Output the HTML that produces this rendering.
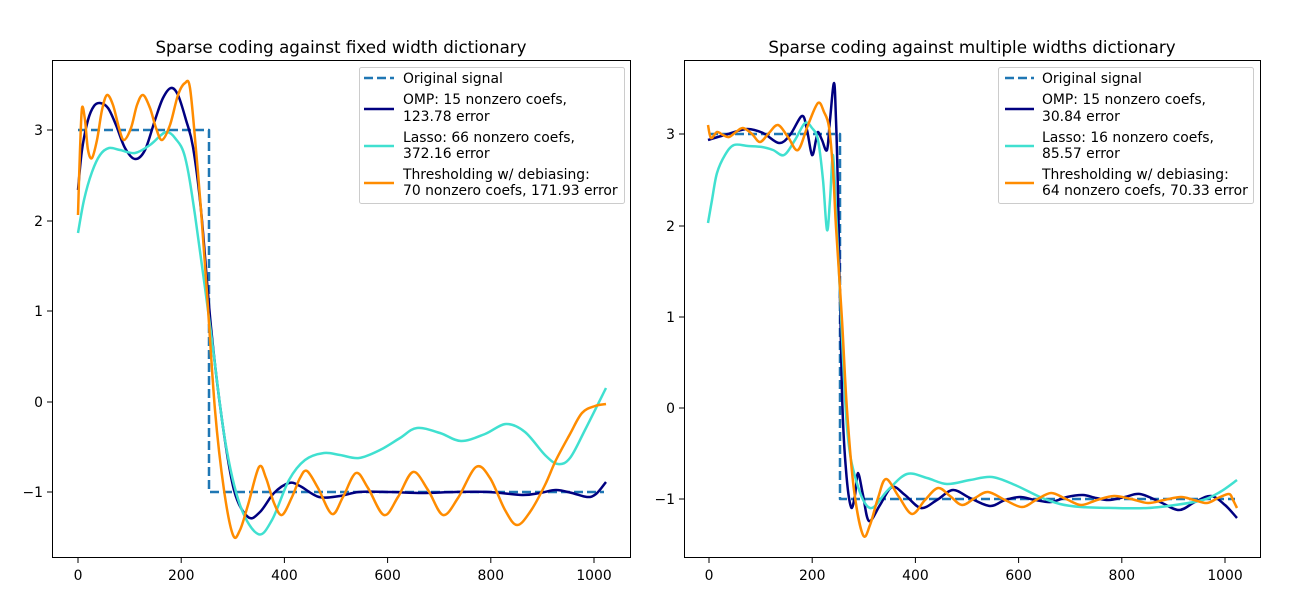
<!DOCTYPE html>
<html><head><meta charset="utf-8"><style>
html,body{margin:0;padding:0;background:#fff;}
svg{display:block;}
text{font-family:"DejaVu Sans","Liberation Sans",sans-serif;fill:#000;}
.tk{font-size:13.9px;}
.lg{font-size:13.9px;}
.tt{font-size:16.7px;}
.c{fill:none;stroke-width:2.5;stroke-linejoin:round;stroke-linecap:butt;}
</style></head><body>
<svg id="s" width="1300" height="600" viewBox="0 0 1300 600">
<rect width="1300" height="600" fill="#fff"/>
<!-- LEFT PANEL -->
<text class="tt" x="341" y="53" text-anchor="middle">Sparse coding against fixed width dictionary</text>
<g>
<polyline class="c" stroke="#1f77b4" stroke-dasharray="9,4" points="78,130 209,130 209,492 604,492"/>
<polyline class="c sm" stroke="#000080" points="78,190 82,150 88,120 94,106 100,103 108,108 116,125 125,148 135,159 145,150 155,120 163,98 171,88 178,95 186,120 193,147 201,210 211,327 222,420 234,490 248,517 260,512 274,493 289,483 300,486 319,497 340,496 359,492 390,492 422,493 455,492 489,492 522,495 540,493 556,490 572,493 587,497 596,494 606,482"/>
<polyline class="c sm" stroke="#40e0d0" points="78,233 84,200 92,172 100,155 109,148 120,150 135,153 150,145 160,136 167,132 175,138 185,157 195,215 211,333 225,440 240,505 258,534 272,520 289,480 305,460 324,453 340,455 359,458 380,450 400,438 417,428 440,433 461,441 485,434 506,424 525,432 545,455 558,464 570,458 585,430 606,388"/>
<polyline class="c sm" stroke="#ff8c00" points="78,215 80,150 82,108 85,120 88,150 92,158 97,140 102,110 107,95 113,105 119,128 124,140 131,128 137,105 143,95 150,108 156,128 162,140 170,125 178,95 185,83 190,88 196,150 201,210 207,293 215,410 224,490 233,535 240,530 248,505 259,467 266,478 274,503 282,515 292,497 300,478 307,471 318,488 332,514 343,497 356,473 368,488 384,515 398,497 413,472 428,490 443,515 458,498 476,467 490,478 505,510 517,525 530,512 545,485 556,460 570,434 582,413 595,406 606,404"/>
</g>
<rect x="52.5" y="60.5" width="578" height="497" fill="none" stroke="#000" stroke-width="1"/>
<g stroke="#000" stroke-width="1">
<line x1="78" y1="558" x2="78" y2="563"/><line x1="181.2" y1="558" x2="181.2" y2="563"/><line x1="284.4" y1="558" x2="284.4" y2="563"/><line x1="387.6" y1="558" x2="387.6" y2="563"/><line x1="490.8" y1="558" x2="490.8" y2="563"/><line x1="594" y1="558" x2="594" y2="563"/>
<line x1="47" y1="130" x2="52" y2="130"/><line x1="47" y1="221" x2="52" y2="221"/><line x1="47" y1="311" x2="52" y2="311"/><line x1="47" y1="402" x2="52" y2="402"/><line x1="47" y1="492" x2="52" y2="492"/>
</g>
<g class="tk" text-anchor="middle">
<text x="78" y="580">0</text><text x="181.2" y="580">200</text><text x="284.4" y="580">400</text><text x="387.6" y="580">600</text><text x="490.8" y="580">800</text><text x="594" y="580">1000</text>
</g>
<g class="tk" text-anchor="end">
<text x="43" y="135">3</text><text x="43" y="226">2</text><text x="43" y="316">1</text><text x="43" y="407">0</text><text x="43" y="497">−1</text>
</g>
<rect x="359.5" y="67.5" width="265" height="136" rx="2" fill="#fff" fill-opacity="0.8" stroke="#ccc"/>
<line x1="364" y1="78" x2="394" y2="78" stroke="#1f77b4" stroke-width="2.5" stroke-dasharray="9,4"/>
<line x1="364" y1="109" x2="394" y2="109" stroke="#000080" stroke-width="2.5"/>
<line x1="364" y1="146" x2="394" y2="146" stroke="#40e0d0" stroke-width="2.5"/>
<line x1="364" y1="183" x2="394" y2="183" stroke="#ff8c00" stroke-width="2.5"/>
<g class="lg">
<text x="403" y="83">Original signal</text>
<text x="403" y="104">OMP: 15 nonzero coefs,</text><text x="403" y="121">123.78 error</text>
<text x="403" y="142">Lasso: 66 nonzero coefs,</text><text x="403" y="158">372.16 error</text>
<text x="403" y="179">Thresholding w/ debiasing:</text><text x="403" y="195">70 nonzero coefs, 171.93 error</text>
</g>

<!-- RIGHT PANEL -->
<text class="tt" x="972" y="53" text-anchor="middle">Sparse coding against multiple widths dictionary</text>
<g>
<polyline class="c" stroke="#1f77b4" stroke-dasharray="9,4" points="709,134 840,134 840,499 1235,499"/>
<polyline class="c sm" stroke="#000080" points="708,140 728,134 747,129 763,133 779,143 790,135 802,116 807,130 812,155 816,140 818,132 822,140 827,150 830,120 834,83 836,120 838,193 842,393 846,470 851,507 855,495 858,473 863,495 869,521 880,505 892,487 905,495 921,508 937,500 953,490 970,498 990,506 1005,500 1020,497 1035,500 1051,502 1067,497 1083,495 1096,498 1109,500 1125,497 1140,494 1160,502 1179,510 1195,502 1211,496 1225,505 1237,518"/>
<polyline class="c sm" stroke="#40e0d0" points="708,223 712,200 717,173 725,155 734,145 748,146 762,147 773,150 784,155 795,140 805,123 812,128 818,140 823,180 827,230 830,200 833,155 836,210 840,293 847,427 856,480 870,508 888,490 907,474 927,478 947,484 970,480 992,477 1015,485 1040,497 1060,504 1081,507 1115,508 1148,508 1175,505 1203,500 1220,492 1237,480"/>
<polyline class="c sm" stroke="#ff8c00" points="708,125 711,138 717,132 723,135 729,137 736,132 743,128 752,134 760,142 769,133 778,125 788,137 798,150 808,125 818,103 824,112 829,127 833,170 836,227 842,320 847,410 854,490 863,535 870,525 878,498 886,479 899,497 912,514 925,500 938,488 950,496 962,505 975,498 988,492 1005,500 1022,507 1036,500 1051,493 1066,499 1081,505 1097,500 1114,496 1131,499 1148,503 1164,500 1181,497 1194,500 1207,503 1218,498 1229,494 1233,500 1237,508"/>
</g>
<rect x="684.5" y="60.5" width="576" height="497" fill="none" stroke="#000" stroke-width="1"/>
<g stroke="#000" stroke-width="1">
<line x1="709" y1="558" x2="709" y2="563"/><line x1="812.2" y1="558" x2="812.2" y2="563"/><line x1="915.4" y1="558" x2="915.4" y2="563"/><line x1="1018.6" y1="558" x2="1018.6" y2="563"/><line x1="1121.8" y1="558" x2="1121.8" y2="563"/><line x1="1225" y1="558" x2="1225" y2="563"/>
<line x1="679" y1="134" x2="684" y2="134"/><line x1="679" y1="226" x2="684" y2="226"/><line x1="679" y1="317" x2="684" y2="317"/><line x1="679" y1="408" x2="684" y2="408"/><line x1="679" y1="499" x2="684" y2="499"/>
</g>
<g class="tk" text-anchor="middle">
<text x="709" y="580">0</text><text x="812.2" y="580">200</text><text x="915.4" y="580">400</text><text x="1018.6" y="580">600</text><text x="1121.8" y="580">800</text><text x="1225" y="580">1000</text>
</g>
<g class="tk" text-anchor="end">
<text x="675" y="139">3</text><text x="675" y="231">2</text><text x="675" y="322">1</text><text x="675" y="413">0</text><text x="675" y="504">−1</text>
</g>
<rect x="998.5" y="67.5" width="255" height="136" rx="2" fill="#fff" fill-opacity="0.8" stroke="#ccc"/>
<line x1="1005" y1="78" x2="1034" y2="78" stroke="#1f77b4" stroke-width="2.5" stroke-dasharray="9,4"/>
<line x1="1005" y1="109" x2="1034" y2="109" stroke="#000080" stroke-width="2.5"/>
<line x1="1005" y1="146" x2="1034" y2="146" stroke="#40e0d0" stroke-width="2.5"/>
<line x1="1005" y1="183" x2="1034" y2="183" stroke="#ff8c00" stroke-width="2.5"/>
<g class="lg">
<text x="1042" y="83">Original signal</text>
<text x="1042" y="104">OMP: 15 nonzero coefs,</text><text x="1042" y="121">30.84 error</text>
<text x="1042" y="142">Lasso: 16 nonzero coefs,</text><text x="1042" y="158">85.57 error</text>
<text x="1042" y="179">Thresholding w/ debiasing:</text><text x="1042" y="195">64 nonzero coefs, 70.33 error</text>
</g>
</svg>
<script>
(function(){
var NS="http://www.w3.org/2000/svg";
var pls=document.querySelectorAll("polyline.sm");
for(var i=0;i<pls.length;i++){
  var pl=pls[i];
  var nums=pl.getAttribute("points").trim().split(/[\s,]+/).map(Number);
  var p=[];for(var j=0;j<nums.length;j+=2)p.push([nums[j],nums[j+1]]);
  var d="M"+p[0][0]+","+p[0][1];
  for(var k=0;k<p.length-1;k++){
    var p0=p[k>0?k-1:k],p1=p[k],p2=p[k+1],p3=p[k+2<p.length?k+2:k+1];
    var c1x=p1[0]+(p2[0]-p0[0])/6,c1y=p1[1]+(p2[1]-p0[1])/6;
    var c2x=p2[0]-(p3[0]-p1[0])/6,c2y=p2[1]-(p3[1]-p1[1])/6;
    d+=" C"+c1x.toFixed(1)+","+c1y.toFixed(1)+" "+c2x.toFixed(1)+","+c2y.toFixed(1)+" "+p2[0]+","+p2[1];
  }
  var path=document.createElementNS(NS,"path");
  path.setAttribute("d",d);
  path.setAttribute("class","c");
  path.setAttribute("stroke",pl.getAttribute("stroke"));
  pl.parentNode.replaceChild(path,pl);
}
})();
</script>
</body></html>
